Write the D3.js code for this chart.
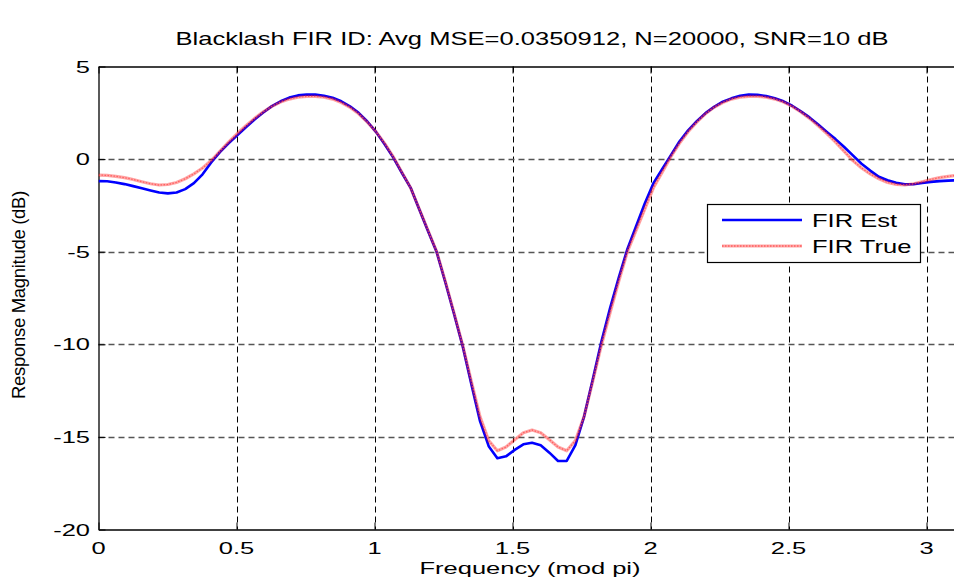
<!DOCTYPE html>
<html>
<head>
<meta charset="utf-8">
<script src="https://cdn.jsdelivr.net/npm/d3@7"></script>
<style>
  html, body { margin: 0; padding: 0; background: #fff; }
  svg { display: block; }
  text { font-family: "Liberation Sans", Arial, sans-serif; fill: #000; }
</style>
</head>
<body>
<svg id="chart" width="954" height="578"></svg>
<script>
// Frequency response magnitude (dB), sampled at k*pi/100, k = 0..100
const firEst = [
  -1.19, -1.20, -1.26, -1.35, -1.46, -1.57, -1.69, -1.80, -1.85, -1.80,
  -1.62, -1.30, -0.82, -0.18, 0.38, 0.85, 1.28, 1.72, 2.14, 2.52,
  2.86, 3.12, 3.32, 3.44, 3.49, 3.48, 3.42, 3.31, 3.12, 2.85,
  2.50, 2.03, 1.47, 0.80, 0.08, -0.75, -1.55, -2.72, -3.88, -5.02,
  -6.65, -8.35, -10.10, -12.15, -14.15, -15.50, -16.15, -16.05, -15.70, -15.40,
  -15.32, -15.45, -15.85, -16.30, -16.30, -15.45, -13.90, -11.90, -9.85, -8.05,
  -6.40, -4.85, -3.62, -2.40, -1.30, -0.55, 0.20, 0.95, 1.55, 2.05,
  2.48, 2.82, 3.10, 3.28, 3.42, 3.48, 3.47, 3.40, 3.28, 3.12,
  2.88, 2.58, 2.25, 1.87, 1.47, 1.08, 0.65, 0.20, -0.25, -0.62,
  -0.95, -1.14, -1.28, -1.36, -1.36, -1.29, -1.23, -1.19, -1.16, -1.14,
  -1.12
];
const firTrue = [
  -0.86, -0.88, -0.93, -1.00, -1.10, -1.22, -1.33, -1.40, -1.37, -1.26,
  -1.06, -0.80, -0.48, -0.08, 0.42, 0.92, 1.38, 1.80, 2.20, 2.55,
  2.85, 3.08, 3.24, 3.34, 3.39, 3.39, 3.34, 3.24, 3.05, 2.80,
  2.45, 2.00, 1.48, 0.85, 0.12, -0.72, -1.55, -2.70, -3.85, -5.00,
  -6.60, -8.30, -10.05, -12.00, -13.90, -15.20, -15.75, -15.55, -15.15, -14.78,
  -14.63, -14.78, -15.15, -15.55, -15.75, -15.20, -13.90, -12.00, -10.05, -8.30,
  -6.60, -5.00, -3.85, -2.70, -1.55, -0.72, 0.12, 0.85, 1.48, 2.00,
  2.45, 2.80, 3.05, 3.24, 3.34, 3.39, 3.39, 3.34, 3.24, 3.08,
  2.85, 2.55, 2.20, 1.80, 1.38, 0.92, 0.42, -0.08, -0.48, -0.80,
  -1.06, -1.26, -1.37, -1.40, -1.33, -1.22, -1.10, -1.00, -0.93, -0.88,
  -0.86
];
const nSteps = 100;
const xTicks = [0, 0.5, 1, 1.5, 2, 2.5, 3];
const yTicks = [5, 0, -5, -10, -15, -20];
const seriesNames = ["FIR Est", "FIR True"];
const titleText = "Blacklash FIR ID: Avg MSE=0.0350912, N=20000, SNR=10 dB";
const xLabel = "Frequency (mod pi)";
const yLabel = "Response Magnitude (dB)";

(function draw() {
  const freq = d3.range(nSteps + 1).map(k => k * Math.PI / nSteps);

  const svg = d3.select("#chart");
  const pLeft = 98.5, pTop = 66.5, pBottom = 529.5;
  const pxPerUnit = 276;
  const pRight = pLeft + Math.PI * pxPerUnit;

  const x = d3.scaleLinear().domain([0, Math.PI]).range([pLeft, pRight]);
  const y = d3.scaleLinear().domain([-20, 5]).range([pBottom, pTop]);

  const SX = 1.42;   // horizontal text stretch (title, legend)
  const fs = 18;
  const SXa = 1.5;   // horizontal stretch for axis texts
  const fsa = 17;

  svg.append("defs").append("clipPath").attr("id", "plotClip")
    .append("rect").attr("x", pLeft).attr("y", pTop)
    .attr("width", pRight - pLeft).attr("height", pBottom - pTop);

  // grid
  const grid = svg.append("g");
  grid.selectAll("line.v").data(xTicks.filter(t => t > 0)).join("line")
    .attr("x1", d => Math.round(x(d)) + 0.5).attr("x2", d => Math.round(x(d)) + 0.5)
    .attr("y1", pTop).attr("y2", pBottom)
    .attr("stroke", "#000").attr("stroke-width", 1).attr("stroke-dasharray", "6,4");
  grid.selectAll("line.h").data(yTicks.filter(t => t > -20 && t < 5)).join("line")
    .attr("x1", pLeft).attr("x2", pRight)
    .attr("y1", d => Math.round(y(d)) + 0.5).attr("y2", d => Math.round(y(d)) + 0.5)
    .attr("stroke", "#555").attr("stroke-width", 1.3).attr("stroke-dasharray", "6,4");

  // axes, ticks pointing inward
  const xAxisB = d3.axisBottom(x).tickValues(xTicks).tickSizeInner(-7).tickSizeOuter(0).tickFormat("");
  const xAxisT = d3.axisTop(x).tickValues(xTicks).tickSizeInner(-7).tickSizeOuter(0).tickFormat("");
  const yAxisL = d3.axisLeft(y).tickValues(yTicks).tickSizeInner(-7).tickSizeOuter(0).tickFormat("");

  function styleAxis(g) {
    g.select(".domain").attr("stroke", "#000").attr("stroke-width", 1.3);
    g.selectAll(".tick line").attr("stroke", "#000").attr("stroke-width", 1);
  }
  svg.append("g").attr("transform", `translate(0,${pBottom})`).call(xAxisB).call(styleAxis);
  svg.append("g").attr("transform", `translate(0,${pTop})`).call(xAxisT).call(styleAxis);
  svg.append("g").attr("transform", `translate(${pLeft},0)`).call(yAxisL).call(styleAxis);

  // tick labels (stretched horizontally)
  svg.append("g").selectAll("text").data(xTicks).join("text")
    .attr("transform", d => `translate(${x(d)},${554}) scale(${SXa},1)`)
    .attr("text-anchor", "middle").attr("font-size", fsa)
    .text(d => d3.format("")(d));
  svg.append("g").selectAll("text").data(yTicks).join("text")
    .attr("transform", d => `translate(${90},${y(d) + 6}) scale(${SXa},1)`)
    .attr("text-anchor", "end").attr("font-size", fsa)
    .text(d => d);

  // title and axis labels
  svg.append("text")
    .attr("transform", `translate(${(pLeft + pRight) / 2},${45}) scale(${SX},1)`)
    .attr("text-anchor", "middle").attr("font-size", fs).text(titleText);
  svg.append("text")
    .attr("transform", `translate(${530},${574}) scale(${SXa},1)`)
    .attr("text-anchor", "middle").attr("font-size", fsa).text(xLabel);
  svg.append("text")
    .attr("transform", `translate(${25},${295}) rotate(-90)`)
    .attr("text-anchor", "middle").attr("font-size", 18.5)
    .attr("letter-spacing", -0.3).text(yLabel);

  // curves
  const line = d3.line().x((d, i) => x(freq[i])).y(d => y(d));
  const plot = svg.append("g").attr("clip-path", "url(#plotClip)");
  plot.append("path").datum(firEst).attr("d", line)
    .attr("fill", "none").attr("stroke", "#0000ff").attr("stroke-width", 2.6)
    .attr("stroke-linejoin", "round");
  plot.append("path").datum(firTrue).attr("d", line)
    .attr("fill", "none").attr("stroke", "rgba(255,0,0,0.35)").attr("stroke-width", 3.2)
    .attr("stroke-linejoin", "round");
  plot.append("path").datum(firTrue).attr("d", line)
    .attr("fill", "none").attr("stroke", "#ff5050").attr("stroke-width", 1.3)
    .attr("stroke-dasharray", "1.5,1.5").attr("opacity", 0.8);

  // legend
  const lg = svg.append("g");
  lg.append("rect").attr("x", 707.5).attr("y", 204.5).attr("width", 213).attr("height", 58)
    .attr("fill", "#fff").attr("stroke", "#000").attr("stroke-width", 1.2);
  lg.append("line").attr("x1", 722).attr("x2", 802).attr("y1", 220).attr("y2", 220)
    .attr("stroke", "#0000ff").attr("stroke-width", 2.6);
  lg.append("line").attr("x1", 722).attr("x2", 802).attr("y1", 246).attr("y2", 246)
    .attr("stroke", "rgba(255,0,0,0.35)").attr("stroke-width", 3.2);
  lg.append("line").attr("x1", 722).attr("x2", 802).attr("y1", 246).attr("y2", 246)
    .attr("stroke", "#ff5050").attr("stroke-width", 1.3).attr("stroke-dasharray", "1.5,1.5").attr("opacity", 0.8);
  lg.selectAll("text.lab").data(seriesNames).join("text")
    .attr("transform", (d, i) => `translate(${812},${227 + i * 26}) scale(${SX},1)`)
    .attr("font-size", fs).text(d => d);
})();
</script>
</body>
</html>
